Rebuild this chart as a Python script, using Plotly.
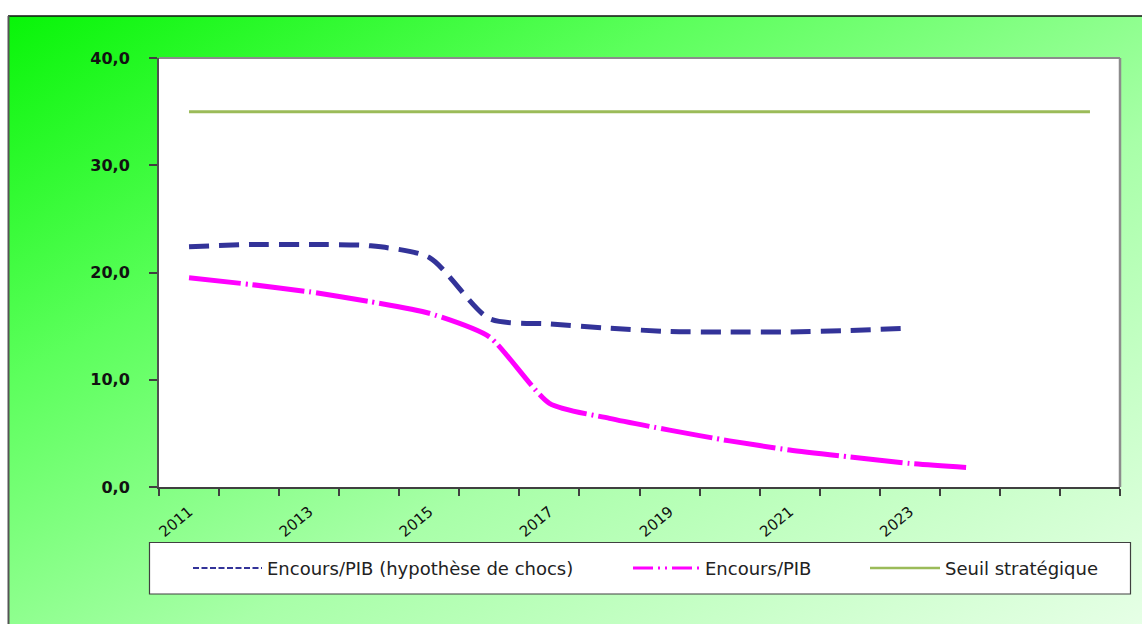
import base64
import plotly.graph_objects as go

# ---- data ----
years = list(range(2011, 2027))
chocs_years = list(range(2011, 2024))
chocs_values = [22.4, 22.6, 22.6, 22.5, 21.4, 15.7, 15.2, 14.8, 14.5, 14.45, 14.45, 14.6, 14.8]
encours_years = list(range(2011, 2025))
encours_values = [19.5, 18.9, 18.2, 17.3, 16.2, 14.0, 7.8, 6.4, 5.3, 4.3, 3.45, 2.8, 2.2, 1.8]
seuil_years = years
seuil_values = [35.0] * len(years)
label_years = [2011, 2013, 2015, 2017, 2019, 2021, 2023]
series_names = ["Encours/PIB (hypothèse de chocs)", "Encours/PIB", "Seuil stratégique"]

W, H = 1142, 624
L, R, T, B = 159, 1120, 58, 487
PW, PH = R - L, B - T

def px(x):
    return (x - L) / PW

def py(y):
    return (B - y) / PH

BLUE = "#333399"
MAGENTA = "#ff00ff"
GREEN = "#9bbb59"

fig = go.Figure()
fig.add_trace(go.Scatter(x=chocs_years, y=chocs_values, mode="lines", name=series_names[0],
                         line=dict(color=BLUE, width=5, dash="20px,10px", shape="spline", smoothing=0.7)))
fig.add_trace(go.Scatter(x=encours_years, y=encours_values, mode="lines", name=series_names[1],
                         line=dict(color=MAGENTA, width=5, dash="52px,5px,2px,5px", shape="spline", smoothing=0.6)))
fig.add_trace(go.Scatter(x=seuil_years, y=seuil_values, mode="lines", name=series_names[2],
                         line=dict(color=GREEN, width=3)))

# background gradient image (whole canvas), with the white plot area
svg = f'''<svg xmlns="http://www.w3.org/2000/svg" width="{W}" height="{H}" viewBox="0 0 {W} {H}">
<defs><linearGradient id="g" x1="0" y1="0" x2="1" y2="1">
<stop offset="0" stop-color="#08f508"/>
<stop offset="0.3" stop-color="#5cff5c"/>
<stop offset="0.6" stop-color="#a8ffa8"/>
<stop offset="1" stop-color="#e6ffe6"/>
</linearGradient></defs>
<rect x="0" y="0" width="{W}" height="{H}" fill="#ffffff"/>
<rect x="8" y="16" width="{W-8}" height="{H-16}" fill="url(#g)"/>
<rect x="{L}" y="{T}" width="{PW}" height="{PH}" fill="#ffffff"/>
<line x1="8" y1="16" x2="{W}" y2="16" stroke="#111111" stroke-width="1.5"/>
<line x1="8.5" y1="16" x2="8.5" y2="{H}" stroke="#555555" stroke-width="2"/>
</svg>'''
src = "data:image/svg+xml;base64," + base64.b64encode(svg.encode()).decode()

shapes = [
    dict(type="line", xref="paper", yref="paper", x0=0, x1=1, y0=1, y1=1, line=dict(color="#8c8c8c", width=2)),
    dict(type="line", xref="paper", yref="paper", x0=1, x1=1, y0=0, y1=1, line=dict(color="#8c8c8c", width=2.5)),
    dict(type="rect", xref="paper", yref="paper", x0=px(149.5), x1=px(1130.5), y0=py(594), y1=py(542.5),
         fillcolor="white", line=dict(color="#404040", width=1.2)),
    dict(type="line", xref="paper", yref="paper", x0=px(193), x1=px(262), y0=py(568), y1=py(568),
         line=dict(color=BLUE, width=2, dash="6px,2.5px")),
    dict(type="line", xref="paper", yref="paper", x0=px(633), x1=px(700), y0=py(568), y1=py(568),
         line=dict(color=MAGENTA, width=3, dash="20px,5px,2px,5px,2px,5px")),
    dict(type="line", xref="paper", yref="paper", x0=px(870), x1=px(940), y0=py(568), y1=py(568),
         line=dict(color=GREEN, width=2.5)),
]

legend_font = dict(family="DejaVu Sans", size=18, color="#222222")
annotations = [
    dict(xref="paper", yref="paper", x=px(265), y=py(568), text=series_names[0], showarrow=False,
         xanchor="left", yanchor="middle", font=legend_font),
    dict(xref="paper", yref="paper", x=px(703), y=py(568), text=series_names[1], showarrow=False,
         xanchor="left", yanchor="middle", font=legend_font),
    dict(xref="paper", yref="paper", x=px(943), y=py(568), text=series_names[2], showarrow=False,
         xanchor="left", yanchor="middle", font=legend_font),
]

fig.update_layout(
    width=W, height=H,
    margin=dict(l=L, r=W - R, t=T, b=H - B, pad=0),
    paper_bgcolor="white",
    plot_bgcolor="white",
    showlegend=False,
    separators=", ",
    shapes=shapes,
    annotations=annotations,
    images=[dict(source=src, xref="paper", yref="paper", x=-L / PW, y=1 + T / PH,
                 sizex=W / PW, sizey=H / PH, xanchor="left", yanchor="top",
                 sizing="stretch", layer="below")],
)

fig.update_xaxes(
    range=[2010.5, 2026.5],
    tickmode="array", tickvals=label_years, ticktext=[str(y) for y in label_years],
    ticks="", tickangle=-40,
    tickfont=dict(family="DejaVu Sans", size=15, color="#111111"),
    ticklabelstandoff=8,
    showgrid=False, zeroline=False,
    showline=True, linecolor="#404040", linewidth=2,
    minor=dict(tickmode="linear", tick0=2010.5, dtick=1, ticks="outside", ticklen=7,
               tickcolor="#404040", tickwidth=1.5, showgrid=False),
)
fig.update_yaxes(
    range=[0, 40], dtick=10, tick0=0, tickformat=".1f",
    ticks="outside", ticklen=8, tickcolor="#404040", tickwidth=1.5,
    tickfont=dict(family="DejaVu Sans", size=16, color="#111111", weight="bold"),
    ticklabelstandoff=16,
    showgrid=False, zeroline=False,
    showline=True, linecolor="#505050", linewidth=2,
)

fig.write_html("out.html", config={"displayModeBar": False},
               post_script="document.body.style.margin='0px';document.body.style.overflow='hidden';")
